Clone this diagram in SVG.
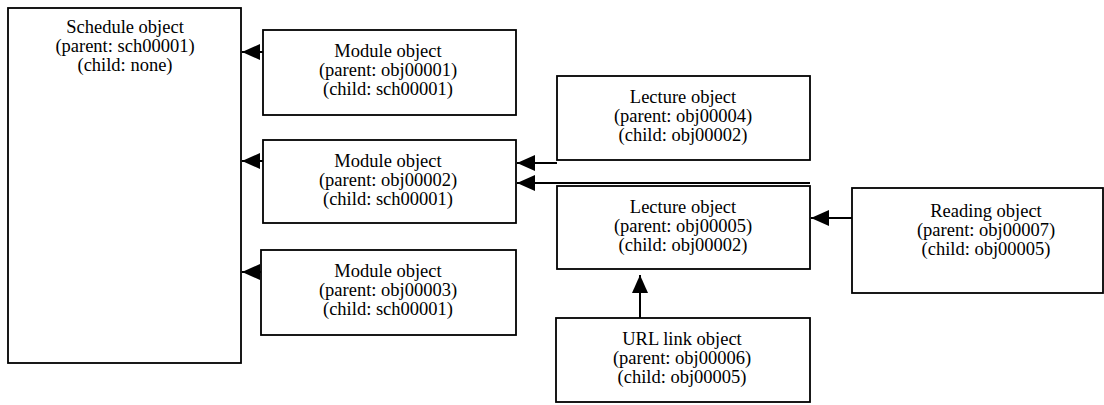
<svg xmlns="http://www.w3.org/2000/svg" width="1104" height="405" viewBox="0 0 1104 405">
<style>
.box{fill:#fff;stroke:#000;stroke-width:1.8}
.t{font-family:"Liberation Serif","Times New Roman",serif;font-size:18.5px;fill:#000;text-anchor:middle}
.c{fill:none;stroke:#000;stroke-width:2}
</style>
<defs>
<marker id="ah" markerUnits="userSpaceOnUse" markerWidth="18" markerHeight="18" viewBox="0 0 18 18" refX="18" refY="9" orient="auto">
<path d="M0,1 L18,9 L0,17 Z" fill="#000"/>
</marker>
</defs>
<rect width="1104" height="405" fill="#fff"/>
<g id="schedule">
<rect class="box" x="8" y="8" width="233" height="355"/>
<text class="t" x="125" y="33">Schedule object</text>
<text class="t" x="125" y="52">(parent: sch00001)</text>
<text class="t" x="125" y="71">(child: none)</text>
</g>
<g id="module1">
<rect class="box" x="263" y="30" width="253" height="85"/>
<text class="t" x="388" y="57">Module object</text>
<text class="t" x="388" y="76">(parent: obj00001)</text>
<text class="t" x="388" y="95">(child: sch00001)</text>
</g>
<g id="module2">
<rect class="box" x="263" y="140" width="253" height="83"/>
<text class="t" x="388" y="167">Module object</text>
<text class="t" x="388" y="186">(parent: obj00002)</text>
<text class="t" x="388" y="205">(child: sch00001)</text>
</g>
<g id="module3">
<rect class="box" x="261" y="250" width="255" height="85"/>
<text class="t" x="388" y="277">Module object</text>
<text class="t" x="388" y="296">(parent: obj00003)</text>
<text class="t" x="388" y="315">(child: sch00001)</text>
</g>
<g id="lecture1">
<rect class="box" x="557" y="76" width="253" height="84"/>
<text class="t" x="683" y="103">Lecture object</text>
<text class="t" x="683" y="122">(parent: obj00004)</text>
<text class="t" x="683" y="141">(child: obj00002)</text>
</g>
<g id="lecture2">
<rect class="box" x="557" y="186" width="253" height="83"/>
<text class="t" x="683" y="213">Lecture object</text>
<text class="t" x="683" y="232">(parent: obj00005)</text>
<text class="t" x="683" y="251">(child: obj00002)</text>
</g>
<g id="url">
<rect class="box" x="556" y="318" width="254" height="84"/>
<text class="t" x="682" y="345">URL link object</text>
<text class="t" x="682" y="364">(parent: obj00006)</text>
<text class="t" x="682" y="383">(child: obj00005)</text>
</g>
<g id="reading">
<rect class="box" x="852" y="188" width="251" height="105"/>
<text class="t" x="986" y="217">Reading object</text>
<text class="t" x="986" y="236">(parent: obj00007)</text>
<text class="t" x="986" y="255">(child: obj00005)</text>
</g>
<g id="connectors">
<path class="c" d="M263,52 H242" marker-end="url(#ah)"/>
<path class="c" d="M263,161 H242" marker-end="url(#ah)"/>
<path class="c" d="M261,272 H242" marker-end="url(#ah)"/>
<path class="c" d="M557,163 H517" marker-end="url(#ah)"/>
<path class="c" d="M810,183 H517" marker-end="url(#ah)"/>
<path class="c" d="M852,218 H811" marker-end="url(#ah)"/>
<path class="c" d="M640,318 V275" marker-end="url(#ah)"/>
</g>
</svg>
